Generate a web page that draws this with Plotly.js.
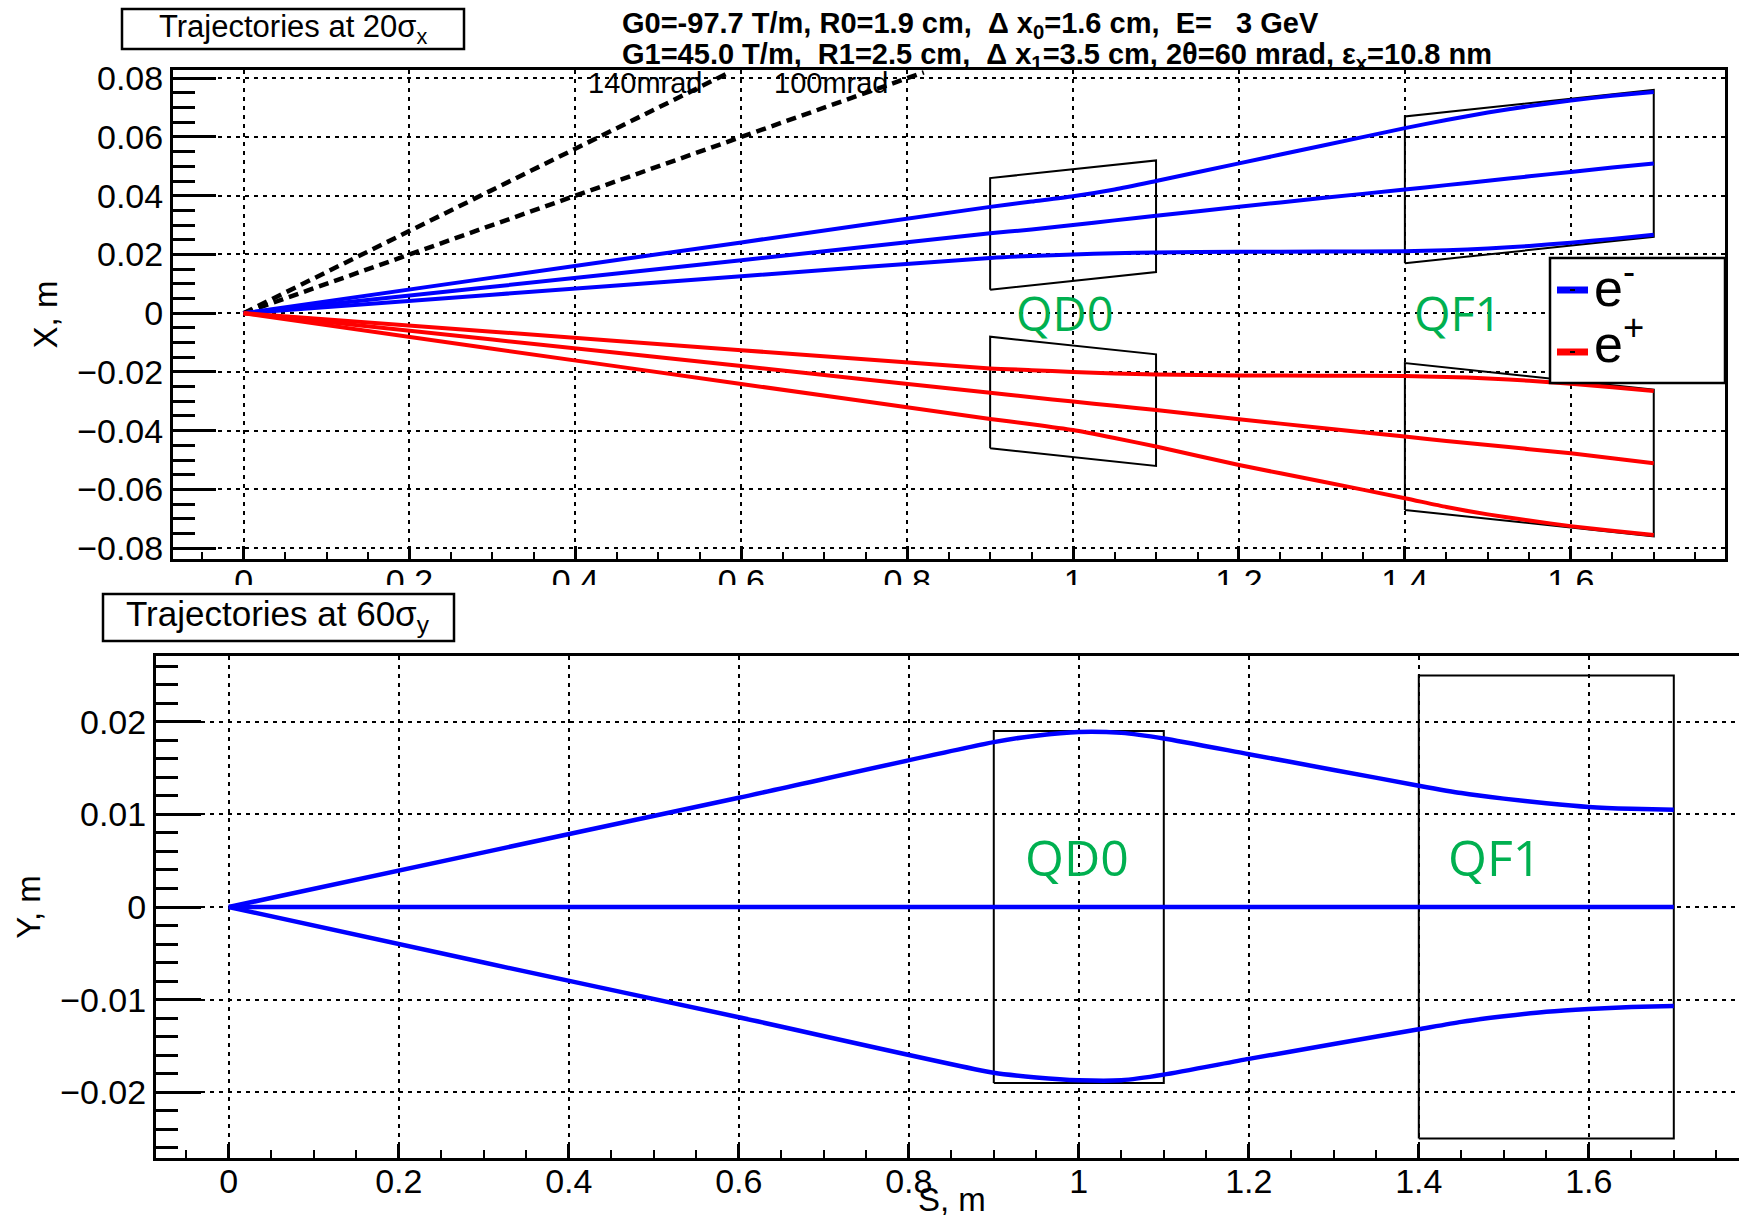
<!DOCTYPE html>
<html><head><meta charset="utf-8">
<script src="https://cdn.plot.ly/plotly-3.0.1.min.js"></script>
<style>html,body{margin:0;padding:0;background:#fff}#chart{width:1739px;height:1215px}</style>
</head><body><div id="chart"></div>
<script>
// ---------------- data ----------------
// Horizontal plane (top panel): longitudinal positions S, m
const sX = [0, 0.3, 0.6, 0.9, 0.95, 1.0, 1.05, 1.1, 1.2, 1.3, 1.4, 1.45, 1.5, 1.55, 1.6, 1.65, 1.7];
// e- trajectories, X in m
const eMinusOuterX   = [0, 0.0121, 0.0241, 0.0362, 0.0380, 0.0398, 0.0421, 0.0450, 0.0510, 0.0570, 0.0630, 0.0658, 0.0683, 0.0705, 0.0724, 0.0740, 0.0753];
const eMinusCentralX = [0, 0.0090, 0.0180, 0.0272, 0.0285, 0.0300, 0.0316, 0.0332, 0.0362, 0.0392, 0.0421, 0.0436, 0.0451, 0.0466, 0.0481, 0.0496, 0.0510];
const eMinusInnerX   = [0, 0.0063, 0.0126, 0.0188, 0.0195, 0.0200, 0.0204, 0.0207, 0.0209, 0.0210, 0.0211, 0.0214, 0.0220, 0.0229, 0.0240, 0.0253, 0.0267];
// e+ trajectories, X in m
const ePlusInnerX    = [0, -0.0063, -0.0126, -0.0188, -0.0194, -0.0200, -0.0205, -0.0209, -0.0212, -0.0213, -0.0214, -0.0217, -0.0222, -0.0230, -0.0240, -0.0252, -0.0265];
const ePlusCentralX  = [0, -0.0090, -0.0180, -0.0271, -0.0286, -0.0301, -0.0315, -0.0330, -0.0361, -0.0391, -0.0420, -0.0435, -0.0449, -0.0463, -0.0477, -0.0494, -0.0511];
const ePlusOuterX    = [0, -0.0121, -0.0241, -0.0360, -0.0378, -0.0398, -0.0425, -0.0454, -0.0517, -0.0573, -0.0630, -0.0660, -0.0685, -0.0706, -0.0725, -0.0741, -0.0755];

// Vertical plane (bottom panel)
const sY = [0, 0.3, 0.6, 0.9, 0.95, 1.0, 1.05, 1.1, 1.2, 1.3, 1.4, 1.45, 1.5, 1.55, 1.6, 1.65, 1.7];
const yUpper   = [0, 0.0059, 0.0118, 0.0178, 0.0185, 0.0189, 0.0188, 0.0182, 0.0165, 0.0148, 0.0131, 0.0123, 0.0117, 0.0112, 0.0108, 0.0106, 0.0105];
const yCentral = [0, 0, 0, 0, 0, 0, 0, 0, 0, 0, 0, 0, 0, 0, 0, 0, 0];
const yLower   = [0, -0.0060, -0.0119, -0.0179, -0.0184, -0.0187, -0.0187, -0.0181, -0.0164, -0.0148, -0.0132, -0.0124, -0.0118, -0.0113, -0.0110, -0.0108, -0.0107];

// Final-focus quadrupoles
const magnetNames  = ['QD0', 'QF1'];
const magnetStart  = [0.9, 1.4];     // m
const magnetEnd    = [1.1, 1.7];     // m
const magnetRadius = [0.019, 0.025]; // m
const halfCrossingAngle = 0.030;     // rad (2θ = 60 mrad)

// Detector acceptance cones
const coneAngles = [0.140, 0.100];   // rad
const coneLabels = ['140mrad', '100mrad'];
const coneReachX = 0.082;            // m, where the cone lines stop

// Axis ticks
const xTickStep = 0.2, topYTickStep = 0.02, botYTickStep = 0.01;

// ---------------- traces ----------------
const BLUE = '#0000ff', RED = '#ff0000';
const traces = [];

// cones (top panel)
coneAngles.forEach((a, i) => {
  traces.push({x: [0, coneReachX / a], y: [0, coneReachX], xaxis: 'x', yaxis: 'y',
    mode: 'lines', line: {color: 'black', width: 4.5, dash: '10px,6px'}, name: coneLabels[i], hoverinfo: 'skip'});
});

// magnets, horizontal plane (tilted by the crossing angle), both beams; and vertical plane
magnetNames.forEach((n, i) => {
  const s0 = magnetStart[i], s1 = magnetEnd[i], R = magnetRadius[i];
  [1, -1].forEach(sign => {
    const c0 = sign * halfCrossingAngle * s0, c1 = sign * halfCrossingAngle * s1;
    traces.push({x: [s0, s1, s1, s0, s0], y: [c0 - R, c1 - R, c1 + R, c0 + R, c0 - R],
      xaxis: 'x', yaxis: 'y', mode: 'lines', line: {color: 'black', width: 2}, name: n, hoverinfo: 'skip'});
  });
  traces.push({x: [s0, s1, s1, s0, s0], y: [-R, -R, R, R, -R],
    xaxis: 'x2', yaxis: 'y2', mode: 'lines', line: {color: 'black', width: 2}, name: n, hoverinfo: 'skip'});
});

// trajectories, horizontal plane
[eMinusOuterX, eMinusCentralX, eMinusInnerX].forEach(v => traces.push({x: sX, y: v, xaxis: 'x', yaxis: 'y',
  mode: 'lines', line: {color: BLUE, width: 4, shape: 'spline', smoothing: 0.6}, name: 'e-'}));
[ePlusInnerX, ePlusCentralX, ePlusOuterX].forEach(v => traces.push({x: sX, y: v, xaxis: 'x', yaxis: 'y',
  mode: 'lines', line: {color: RED, width: 4, shape: 'spline', smoothing: 0.6}, name: 'e+'}));
// trajectories, vertical plane
[yUpper, yCentral, yLower].forEach(v => traces.push({x: sY, y: v, xaxis: 'x2', yaxis: 'y2',
  mode: 'lines', line: {color: BLUE, width: 4.5, shape: 'spline', smoothing: 0.6}, name: 'e-'}));

// ---------------- layout ----------------
const W = 1739, H = 1215;
const px = v => v / W, py = v => 1 - v / H;
const FONT = 'Liberation Sans, Arial, Helvetica, sans-serif';
const GREEN = '#00b050';
const GFONT = 'Open Sans, Noto Sans, sans-serif';

const axisCommon = {
  showline: true, linecolor: 'black', linewidth: 3, mirror: true,
  ticks: 'inside', tickcolor: 'black', tickwidth: 3,
  showgrid: true, gridcolor: 'black', gridwidth: 2, griddash: '4px,5px',
  zeroline: false, automargin: false, fixedrange: true,
  tickfont: {family: FONT, size: 34, color: 'black'}
};

const layout = {
  width: W, height: H,
  margin: {l: 0, r: 0, t: 0, b: 0, pad: 0},
  paper_bgcolor: 'white', plot_bgcolor: 'white',
  showlegend: false,
  font: {family: FONT, color: 'black'},
  xaxis: Object.assign({}, axisCommon, {
    anchor: 'y', domain: [px(173), px(1725)], range: [-0.0851, 1.7859],
    tick0: 0, dtick: xTickStep, ticklen: 13, ticklabelstandoff: -10,
    minor: {ticks: 'inside', ticklen: 7, tick0: 0, dtick: 0.05, tickwidth: 2, tickcolor: 'black', showgrid: false}
  }),
  yaxis: Object.assign({}, axisCommon, {
    anchor: 'x', domain: [py(559), py(70)], range: [-0.0837, 0.0828],
    tick0: 0, dtick: topYTickStep, ticklen: 43,
    minor: {ticks: 'inside', ticklen: 22, tick0: 0, dtick: 0.005, tickwidth: 3, tickcolor: 'black', showgrid: false},
    title: {text: 'X, m', font: {family: FONT, size: 33, color: 'black'}, standoff: 10}
  }),
  xaxis2: Object.assign({}, axisCommon, {
    anchor: 'y2', domain: [px(156), 1], range: [-0.0856, 1.7767],
    tick0: 0, dtick: xTickStep, ticklen: 14, ticklabelstandoff: -9,
    minor: {ticks: 'inside', ticklen: 8, tick0: 0, dtick: 0.05, tickwidth: 2, tickcolor: 'black', showgrid: false}
  }),
  yaxis2: Object.assign({}, axisCommon, {
    anchor: 'x2', domain: [py(1158), py(656)], range: [-0.0271, 0.0271],
    tick0: 0, dtick: botYTickStep, ticklen: 45,
    minor: {ticks: 'inside', ticklen: 22, tick0: 0, dtick: 0.002, tickwidth: 3, tickcolor: 'black', showgrid: false},
    title: {text: 'Y, m', font: {family: FONT, size: 33, color: 'black'}, standoff: 10}
  }),
  shapes: [
    // the top panel's tick labels are cut off in the reference (image crop)
    {type: 'rect', xref: 'paper', yref: 'paper', x0: 0, x1: 1, y0: py(652), y1: py(585), fillcolor: 'white', line: {width: 0}, layer: 'above'},
    // title boxes
    {type: 'rect', xref: 'paper', yref: 'paper', x0: px(122), x1: px(464), y0: py(49), y1: py(9), fillcolor: 'white', line: {color: 'black', width: 2.5}, layer: 'above'},
    {type: 'rect', xref: 'paper', yref: 'paper', x0: px(103), x1: px(454), y0: py(641), y1: py(594), fillcolor: 'white', line: {color: 'black', width: 2.5}, layer: 'above'},
    // legend box
    {type: 'rect', xref: 'paper', yref: 'paper', x0: px(1550), x1: px(1725), y0: py(383), y1: py(258), fillcolor: 'white', line: {color: 'black', width: 2.5}, layer: 'above'},
    {type: 'line', xref: 'paper', yref: 'paper', x0: px(1557), x1: px(1588), y0: py(290), y1: py(290), line: {color: BLUE, width: 7}, layer: 'above'},
    {type: 'line', xref: 'paper', yref: 'paper', x0: px(1570), x1: px(1575), y0: py(290), y1: py(290), line: {color: 'black', width: 2}, layer: 'above'},
    {type: 'line', xref: 'paper', yref: 'paper', x0: px(1557), x1: px(1588), y0: py(352), y1: py(352), line: {color: RED, width: 7}, layer: 'above'},
    {type: 'line', xref: 'paper', yref: 'paper', x0: px(1570), x1: px(1575), y0: py(352), y1: py(352), line: {color: 'black', width: 2}, layer: 'above'}
  ],
  annotations: [
    {xref: 'paper', yref: 'paper', x: px(293), y: py(29), xanchor: 'center', yanchor: 'middle', showarrow: false,
     text: 'Trajectories at 20σ<sub>x</sub>', font: {family: FONT, size: 31, color: 'black'}},
    {xref: 'paper', yref: 'paper', x: px(278), y: py(616), xanchor: 'center', yanchor: 'middle', showarrow: false,
     text: 'Trajectories at 60σ<sub>y</sub>', font: {family: FONT, size: 35, color: 'black'}},
    {xref: 'paper', yref: 'paper', x: px(620), y: py(25), xanchor: 'left', yanchor: 'middle', showarrow: false,
     text: '<b>G0=-97.7 T/m, R0=1.9 cm, \u00a0Δ x<sub>0</sub>=1.6 cm, \u00a0E= \u00a0 3 GeV</b>', font: {family: FONT, size: 29, color: 'black'}},
    {xref: 'paper', yref: 'paper', x: px(620), y: py(56), xanchor: 'left', yanchor: 'middle', showarrow: false,
     text: '<b>G1=45.0 T/m, \u00a0R1=2.5 cm, \u00a0Δ x<sub>1</sub>=3.5 cm, 2θ=60 mrad, ε<sub>x</sub>=10.8 nm</b>', font: {family: FONT, size: 29, color: 'black'}},
    // cone labels
    {xref: 'x', yref: 'y', x: 0.413, y: 0.0784, xanchor: 'left', yanchor: 'middle', showarrow: false,
     text: coneLabels[0], font: {family: FONT, size: 29, color: 'black'}},
    {xref: 'x', yref: 'y', x: 0.637, y: 0.0784, xanchor: 'left', yanchor: 'middle', showarrow: false,
     text: coneLabels[1], font: {family: FONT, size: 29, color: 'black'}},
    // magnet labels
    {xref: 'x', yref: 'y', x: 0.990, y: 0, xanchor: 'center', yanchor: 'middle', showarrow: false,
     text: magnetNames[0], font: {family: GFONT, size: 47, color: GREEN}},
    {xref: 'x', yref: 'y', x: 1.464, y: 0, xanchor: 'center', yanchor: 'middle', showarrow: false,
     text: magnetNames[1], font: {family: GFONT, size: 47, color: GREEN}},
    {xref: 'x2', yref: 'y2', x: 0.998, y: 0.0054, xanchor: 'center', yanchor: 'middle', showarrow: false,
     text: magnetNames[0], font: {family: GFONT, size: 50, color: GREEN}},
    {xref: 'x2', yref: 'y2', x: 1.489, y: 0.0054, xanchor: 'center', yanchor: 'middle', showarrow: false,
     text: magnetNames[1], font: {family: GFONT, size: 50, color: GREEN}},
    // legend text
    {xref: 'paper', yref: 'paper', x: px(1592), y: py(284), xanchor: 'left', yanchor: 'middle', showarrow: false,
     text: 'e<sup>-</sup>', font: {family: FONT, size: 52, color: 'black'}},
    {xref: 'paper', yref: 'paper', x: px(1592), y: py(340), xanchor: 'left', yanchor: 'middle', showarrow: false,
     text: 'e<sup>+</sup>', font: {family: FONT, size: 52, color: 'black'}},
    // bottom x-axis title
    {xref: 'paper', yref: 'paper', x: px(952), y: py(1199), xanchor: 'center', yanchor: 'middle', showarrow: false,
     text: 'S, m', font: {family: FONT, size: 33, color: 'black'}}
  ]
};

Plotly.newPlot('chart', traces, layout, {displayModeBar: false, staticPlot: true});
</script>
</body></html>
